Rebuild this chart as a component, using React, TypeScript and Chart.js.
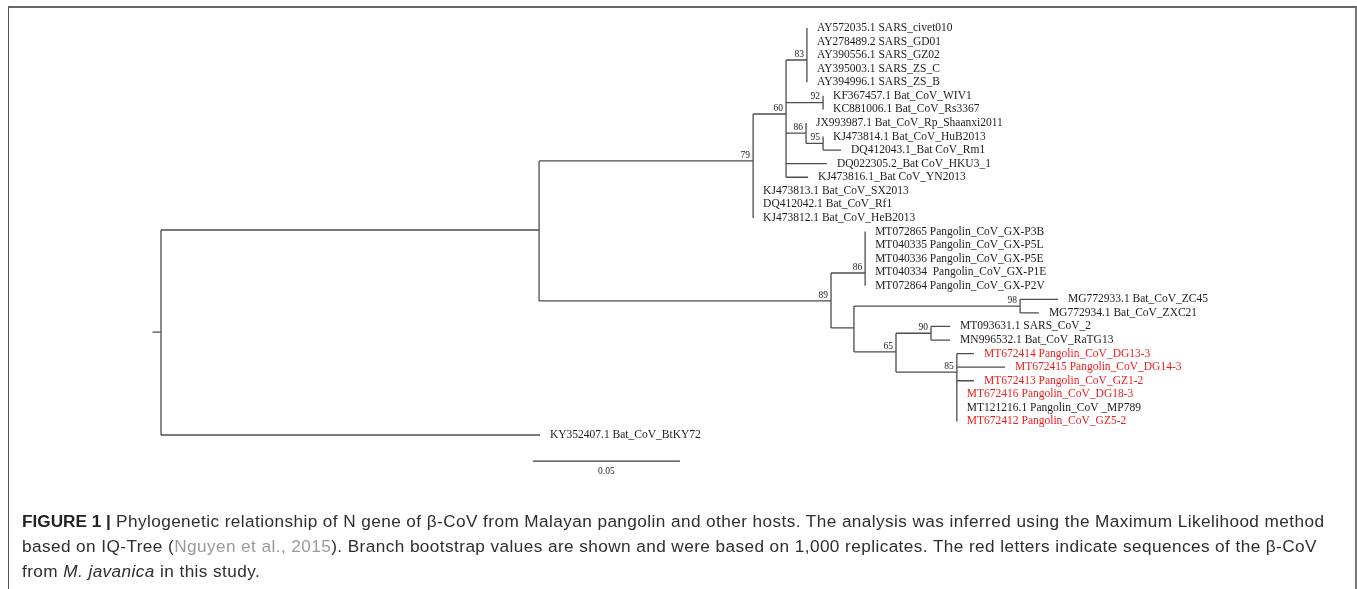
import React, { useEffect, useRef } from "react";
import { Chart, registerables } from "chart.js";

Chart.register(...registerables);

// ---------- Tree data ----------
// Internal nodes: distance from root (substitutions/site), vertical row, parent index, bootstrap
const nodeNames = ["root", "n1", "n79", "n60", "n83", "n92", "n86a", "n95", "n89", "n86b", "n2", "n98", "n65", "n90", "n85"];
const nodeDistances = [0, 0.1286, 0.2014, 0.2126, 0.2197, 0.2252, 0.2194, 0.2252, 0.2279, 0.2395, 0.2357, 0.2922, 0.25, 0.2619, 0.2707];
const nodeRows = [23.41, 15.89, 10.8, 7.34, 3.36, 6.5, 8.75, 9.5, 21.12, 19.06, 23.11, 21.5, 24.88, 23.5, 26.36];
const nodeParents = [-1, 0, 1, 2, 3, 3, 3, 6, 1, 8, 8, 10, 10, 12, 12];
const nodeBootstraps = ["", "", "79", "60", "83", "92", "86", "95", "89", "86", "", "98", "65", "90", "85"];

// Leaves (row = index + 1)
const leafNames = [
  "AY572035.1 SARS_civet010",
  "AY278489.2 SARS_GD01",
  "AY390556.1 SARS_GZ02",
  "AY395003.1 SARS_ZS_C",
  "AY394996.1 SARS_ZS_B",
  "KF367457.1 Bat_CoV_WIV1",
  "KC881006.1 Bat_CoV_Rs3367",
  "JX993987.1 Bat_CoV_Rp_Shaanxi2011",
  "KJ473814.1 Bat_CoV_HuB2013",
  "DQ412043.1_Bat CoV_Rm1",
  "DQ022305.2_Bat CoV_HKU3_1",
  "KJ473816.1_Bat CoV_YN2013",
  "KJ473813.1 Bat_CoV_SX2013",
  "DQ412042.1 Bat_CoV_Rf1",
  "KJ473812.1 Bat_CoV_HeB2013",
  "MT072865 Pangolin_CoV_GX-P3B",
  "MT040335 Pangolin_CoV_GX-P5L",
  "MT040336 Pangolin_CoV_GX-P5E",
  "MT040334  Pangolin_CoV_GX-P1E",
  "MT072864 Pangolin_CoV_GX-P2V",
  "MG772933.1 Bat_CoV_ZC45",
  "MG772934.1 Bat_CoV_ZXC21",
  "MT093631.1 SARS_CoV_2",
  "MN996532.1 Bat_CoV_RaTG13",
  "MT672414 Pangolin_CoV_DG13-3",
  "MT672415 Pangolin_CoV_DG14-3",
  "MT672413 Pangolin_CoV_GZ1-2",
  "MT672416 Pangolin_CoV_DG18-3",
  "MT121216.1 Pangolin_CoV _MP789",
  "MT672412 Pangolin_CoV_GZ5-2",
  "KY352407.1 Bat_CoV_BtKY72",
];
const leafParents = [4, 4, 4, 4, 4, 5, 5, 6, 7, 7, 3, 3, 2, 2, 2, 9, 9, 9, 9, 9, 11, 11, 13, 13, 14, 14, 14, 14, 14, 14, 0];
const leafDistances = [
  0.2197, 0.2197, 0.2197, 0.2197, 0.2197,
  0.2252, 0.2252, 0.2194, 0.2252, 0.2313,
  0.2265, 0.2201, 0.2014, 0.2014, 0.2014,
  0.2395, 0.2395, 0.2395, 0.2395, 0.2395,
  0.3051, 0.2986, 0.2684, 0.2684,
  0.2765, 0.2871, 0.2765, 0.2707, 0.2707, 0.2707,
  0.1289,
];
const redLeaves = [
  "MT672414 Pangolin_CoV_DG13-3",
  "MT672415 Pangolin_CoV_DG14-3",
  "MT672413 Pangolin_CoV_GZ1-2",
  "MT672416 Pangolin_CoV_DG18-3",
  "MT672412 Pangolin_CoV_GZ5-2",
];

const rootStubLength = 0.0029;
const scaleBarStart = 0.1265;
const scaleBarLength = 0.05;
const scaleBarRow = 32.92;

// ---------- geometry helpers ----------
type P = { x: number; y: number | null };

function buildBranches(): P[] {
  const pts: P[] = [];
  const gap = () => pts.push({ x: 0, y: null });
  const childRows: number[][] = nodeRows.map(() => []);
  nodeParents.forEach((p, i) => {
    if (p >= 0) childRows[p].push(nodeRows[i]);
  });
  leafParents.forEach((p, i) => childRows[p].push(i + 1));
  nodeDistances.forEach((x, i) => {
    const rs = childRows[i];
    pts.push({ x, y: Math.min(...rs) }, { x, y: Math.max(...rs) });
    gap();
  });
  nodeParents.forEach((p, i) => {
    if (p < 0) return;
    if (nodeDistances[i] > nodeDistances[p]) {
      pts.push({ x: nodeDistances[p], y: nodeRows[i] }, { x: nodeDistances[i], y: nodeRows[i] });
      gap();
    }
  });
  leafParents.forEach((p, i) => {
    if (leafDistances[i] > nodeDistances[p] + 1e-6) {
      pts.push({ x: nodeDistances[p], y: i + 1 }, { x: leafDistances[i], y: i + 1 });
      gap();
    }
  });
  pts.push({ x: -rootStubLength, y: nodeRows[0] }, { x: 0, y: nodeRows[0] });
  return pts;
}

const SERIF = '"Liberation Serif", "Times New Roman", serif';

const labelsPlugin = {
  id: "treeLabels",
  afterDatasetsDraw(chart: any) {
    const { ctx } = chart;
    const xs = chart.scales.x;
    const ys = chart.scales.y;
    ctx.save();
    ctx.font = `11.5px ${SERIF}`;
    ctx.textAlign = "left";
    ctx.textBaseline = "middle";
    leafNames.forEach((name, i) => {
      ctx.fillStyle = redLeaves.includes(name) ? "#f01c1c" : "#1c1c1c";
      ctx.fillText(name, xs.getPixelForValue(leafDistances[i]) + 10, ys.getPixelForValue(i + 1));
    });
    ctx.font = `9.5px ${SERIF}`;
    ctx.fillStyle = "#1c1c1c";
    ctx.textAlign = "right";
    ctx.textBaseline = "bottom";
    nodeBootstraps.forEach((b, i) => {
      if (!b) return;
      ctx.fillText(b, xs.getPixelForValue(nodeDistances[i]) - 3, ys.getPixelForValue(nodeRows[i]) - 1);
    });
    ctx.textAlign = "center";
    ctx.textBaseline = "middle";
    ctx.fillText(
      String(scaleBarLength),
      xs.getPixelForValue(scaleBarStart + scaleBarLength / 2),
      ys.getPixelForValue(scaleBarRow) + 10
    );
    ctx.restore();
  },
};

function TreeChart() {
  const ref = useRef<HTMLCanvasElement | null>(null);
  useEffect(() => {
    if (!ref.current) return;
    const chart = new Chart(ref.current, {
      type: "scatter",
      data: {
        datasets: [
          {
            label: "branches",
            data: buildBranches() as any,
            showLine: true,
            spanGaps: false,
            borderColor: "#4d4d4d",
            borderWidth: 1.3,
            pointRadius: 0,
            clip: false as any,
          },
          {
            label: "scale",
            data: [
              { x: scaleBarStart, y: scaleBarRow },
              { x: scaleBarStart + scaleBarLength, y: scaleBarRow },
            ],
            showLine: true,
            borderColor: "#3a3a3a",
            borderWidth: 1.3,
            pointRadius: 0,
            clip: false as any,
          },
        ],
      },
      options: {
        animation: false,
        responsive: false,
        devicePixelRatio: 1,
        layout: { padding: { left: 131.6, right: 20, top: 14.43, bottom: 31.9 } },
        plugins: { legend: { display: false }, tooltip: { enabled: false } },
        scales: {
          x: { type: "linear", min: -0.01, max: 0.4, display: false },
          y: { type: "linear", min: 0, max: 40, reverse: true, display: false },
        },
      },
      plugins: [labelsPlugin],
    });
    return () => chart.destroy();
  }, []);
  return <canvas ref={ref} width={1357} height={589} style={{ position: "absolute", left: 0, top: 0, width: 1357, height: 589 }} />;
}

export default function App() {
  return (
    <div style={{ position: "fixed", left: 0, top: 0, width: 1357, height: 589, background: "#fff", overflow: "hidden" }}>
      <div
        style={{
          position: "absolute",
          left: 8,
          top: 6,
          width: 1346,
          height: 620,
          borderLeft: "1px solid #555",
          borderTop: "2px solid #666",
          borderRight: "2px solid #777",
          boxSizing: "content-box",
        }}
      />
      <TreeChart />
      <div
        style={{
          position: "absolute",
          left: 22,
          top: 509,
          whiteSpace: "nowrap",
          font: '17.2px "Liberation Sans", Arial, sans-serif',
          letterSpacing: "0.42px",
          lineHeight: "25px",
          color: "#2e2e2e",
        }}
      >
        <b style={{ color: "#222", letterSpacing: "0px" }}>FIGURE 1 |</b> Phylogenetic relationship of N gene of β-CoV from Malayan pangolin and other hosts. The analysis was inferred using the Maximum Likelihood method
        <br />
        based on IQ-Tree (<span style={{ color: "#9a9a9a" }}>Nguyen et al., 2015</span>). Branch bootstrap values are shown and were based on 1,000 replicates. The red letters indicate sequences of the β-CoV
        <br />
        from <i>M. javanica</i> in this study.
      </div>
    </div>
  );
}
